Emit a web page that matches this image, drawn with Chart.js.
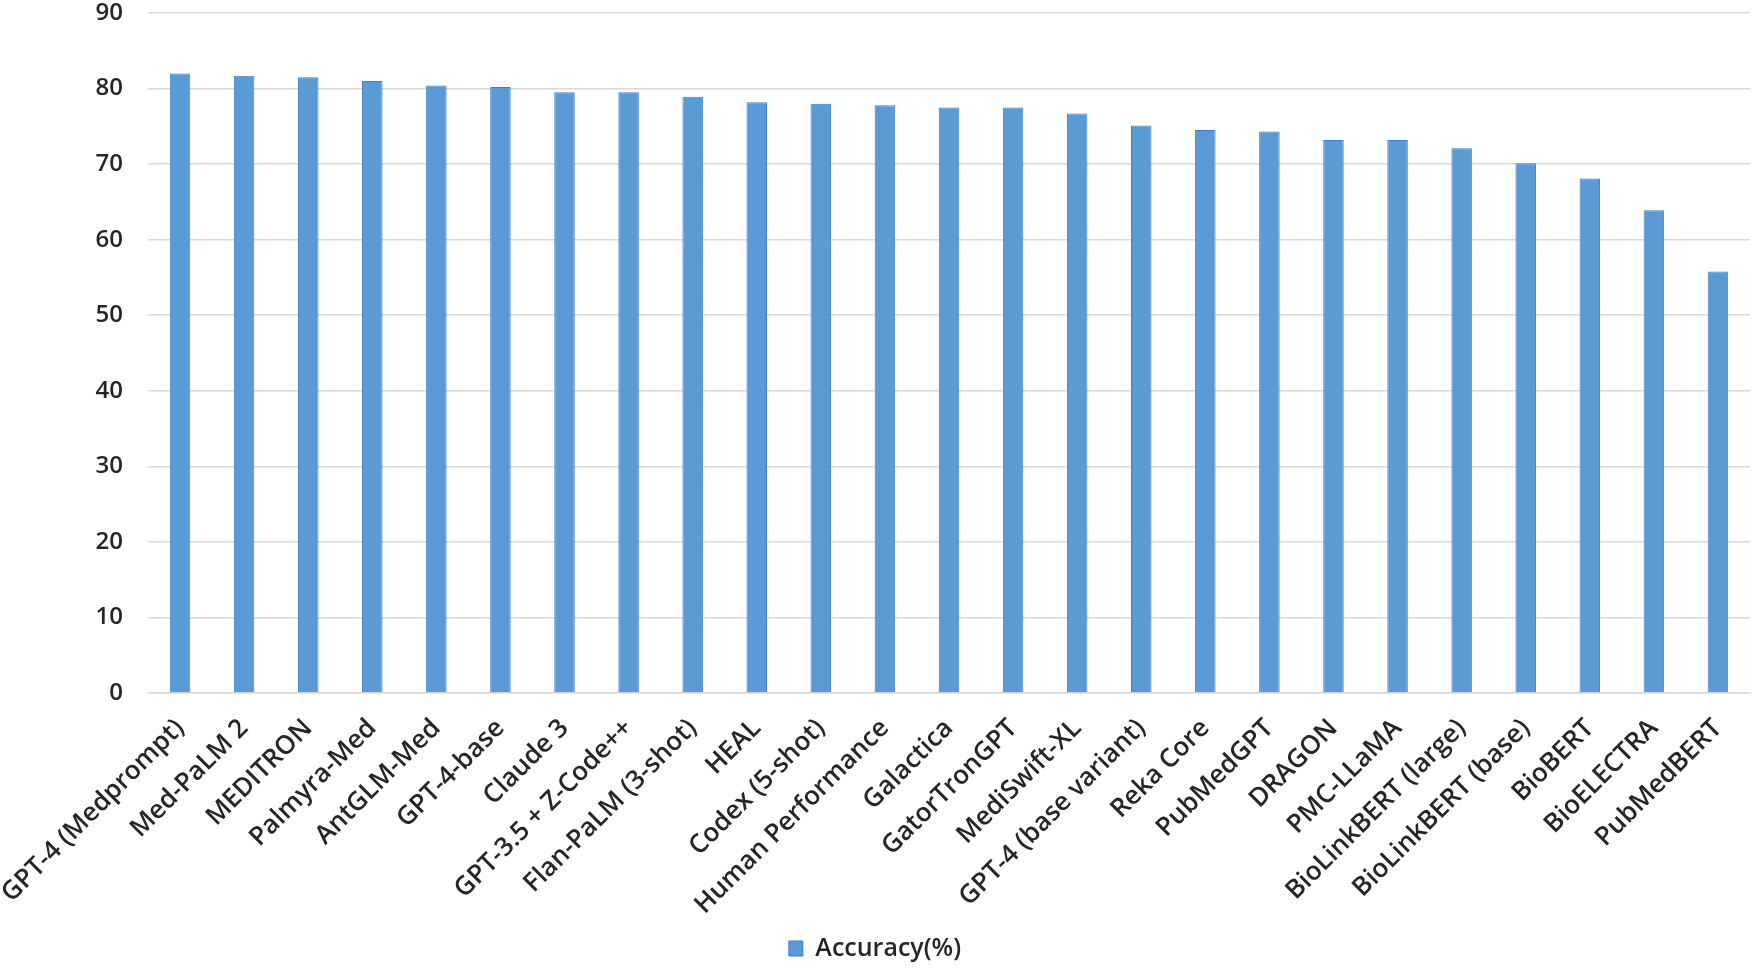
<!DOCTYPE html>
<html>
<head>
<meta charset="utf-8">
<title>Accuracy(%)</title>
<script src="https://cdn.jsdelivr.net/npm/chart.js@4/dist/chart.umd.min.js"></script>
<style>
  html, body { margin: 0; padding: 0; background: #fff; }
  #wrap { width: 1755px; height: 971px; position: relative; }
</style>
</head>
<body>
<div id="wrap"><canvas id="grafico-barras"></canvas></div>
<script>
/* ── DATA ─────────────────────────────────────────────────────── */
const modelos = [
  'GPT-4 (Medprompt)', 'Med-PaLM 2', 'MEDITRON', 'Palmyra-Med', 'AntGLM-Med',
  'GPT-4-base', 'Claude 3', 'GPT-3.5 + Z-Code++', 'Flan-PaLM (3-shot)', 'HEAL',
  'Codex (5-shot)', 'Human Performance', 'Galactica', 'GatorTronGPT', 'MediSwift-XL',
  'GPT-4 (base variant)', 'Reka Core', 'PubMedGPT', 'DRAGON', 'PMC-LLaMA',
  'BioLinkBERT (large)', 'BioLinkBERT (base)', 'BioBERT', 'BioELECTRA', 'PubMedBERT'
];

const accuracy = [
  82.0, 81.7, 81.5, 81.0, 80.4,
  80.2, 79.5, 79.5, 78.9, 78.2,
  78.0, 77.8, 77.5, 77.5, 76.7,
  75.1, 74.5, 74.3, 73.2, 73.2,
  72.1, 70.1, 68.1, 63.9, 55.8
];

const yTicks = [0, 10, 20, 30, 40, 50, 60, 70, 80, 90];

/* ── CHART ────────────────────────────────────────────────────── */
const textColor = '#262626';
const gridColor = '#d9d9d9';

const ctx = document.getElementById('grafico-barras').getContext('2d');

new Chart(ctx, {
  type: 'bar',
  data: {
    labels: modelos,
    datasets: [{
      label: 'Accuracy(%)',
      data: accuracy,
      backgroundColor: '#5b9bd5',
      borderColor: '#3f7fc8',
      borderWidth: 1,
      barPercentage: 0.32,
      categoryPercentage: 1.0,
    }]
  },
  options: {
    responsive: true,
    maintainAspectRatio: false,
    animation: false,
    layout: { padding: { top: 0, right: 5, bottom: 0, left: 0 } },
    plugins: {
      legend: {
        position: 'bottom',
        labels: {
          color: textColor,
          font: { family: 'Open Sans', size: 25, weight: '600' },
          boxWidth: 14,
          boxHeight: 15,
          padding: 0,
        }
      },
      tooltip: { enabled: false },
    },
    scales: {
      y: {
        min: yTicks[0],
        max: yTicks[yTicks.length - 1],
        afterBuildTicks: (scale) => { scale.ticks = yTicks.map(v => ({ value: v })); },
        // fixed axis width; keep tick padding from pushing the plot down
        afterFit: (scale) => {
          scale.width = 148;
          scale.paddingTop = 13;
          scale.paddingBottom = 0;
        },
        ticks: {
          color: textColor,
          padding: 25,
          font: { family: 'Open Sans', size: 24, weight: '600' },
        },
        grid: { color: gridColor, lineWidth: 1.5, drawTicks: false },
        border: { display: false },
      },
      x: {
        // rotated labels may hang left of the plot; don't let them move it
        afterFit: (scale) => {
          scale.height = 243;
          scale.paddingLeft = 0;
          scale.paddingRight = 0;
        },
        ticks: {
          color: textColor,
          autoSkip: false,
          minRotation: 45,
          maxRotation: 45,
          padding: 12,
          font: { family: 'Open Sans', size: 26, weight: '600' },
        },
        grid: { display: false },
        border: { color: gridColor, width: 1.5 },
      }
    }
  }
});
</script>
</body>
</html>
